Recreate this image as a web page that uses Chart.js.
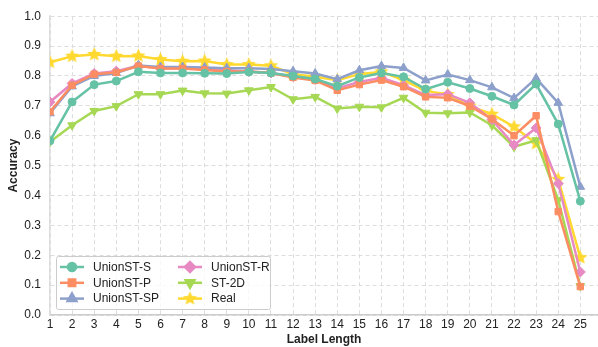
<!DOCTYPE html>
<html>
<head>
<meta charset="utf-8">
<script src="https://cdn.jsdelivr.net/npm/chart.js@4.4.1/dist/chart.umd.min.js"></script>
<style>
  html, body { margin: 0; padding: 0; background: #fff; }
  #wrap { width: 598px; height: 347px; position: relative; }
</style>
</head>
<body>
<div id="wrap"><canvas id="chart"></canvas></div>
<script>
const lengths = [1,2,3,4,5,6,7,8,9,10,11,12,13,14,15,16,17,18,19,20,21,22,23,24,25];
const yTicks = [0,0.1,0.2,0.3,0.4,0.5,0.6,0.7,0.8,0.9,1.0];

const unionS  = [0.583,0.713,0.771,0.783,0.814,0.810,0.810,0.809,0.808,0.813,0.810,0.800,0.790,0.766,0.795,0.810,0.797,0.756,0.779,0.758,0.732,0.703,0.773,0.639,0.381];
const unionP  = [0.680,0.769,0.806,0.812,0.833,0.825,0.825,0.820,0.815,0.815,0.810,0.795,0.785,0.752,0.771,0.786,0.764,0.730,0.727,0.699,0.656,0.600,0.667,0.346,0.095];
const unionSP = [0.675,0.765,0.800,0.810,0.835,0.830,0.830,0.828,0.826,0.826,0.823,0.816,0.808,0.789,0.819,0.833,0.827,0.785,0.805,0.786,0.762,0.726,0.792,0.710,0.429];
const unionR  = [0.713,0.775,0.808,0.816,0.834,0.826,0.825,0.823,0.819,0.815,0.810,0.798,0.788,0.759,0.780,0.794,0.769,0.736,0.739,0.710,0.654,0.569,0.626,0.440,0.144];
const st2d    = [0.580,0.635,0.683,0.699,0.739,0.739,0.751,0.742,0.741,0.752,0.763,0.722,0.730,0.691,0.697,0.695,0.727,0.677,0.675,0.678,0.635,0.563,0.585,0.385,0.097];
const real    = [0.846,0.866,0.872,0.866,0.867,0.855,0.849,0.850,0.838,0.838,0.834,0.806,0.797,0.786,0.806,0.814,0.786,0.750,0.738,0.699,0.672,0.630,0.574,0.454,0.192];

// filled five-point star marker
function makeStar(color, r) {
  const c = document.createElement('canvas');
  const s = Math.ceil(r * 2 + 2);
  c.width = s; c.height = s;
  const g = c.getContext('2d');
  g.fillStyle = color;
  g.beginPath();
  for (let i = 0; i < 10; i++) {
    const rad = i % 2 === 0 ? r : r * 0.45;
    const a = -Math.PI / 2 + i * Math.PI / 5;
    g.lineTo(s / 2 + rad * Math.cos(a), s / 2 + rad * Math.sin(a));
  }
  g.closePath();
  g.fill();
  return c;
}

const series = [
  { label: 'UnionST-S',  data: unionS,  color: '#66c2a5', style: 'circle',   rot: 0,   r: 4 },
  { label: 'UnionST-P',  data: unionP,  color: '#fc8d62', style: 'rect',     rot: 0,   r: 4.5 },
  { label: 'UnionST-SP', data: unionSP, color: '#8da0cb', style: 'triangle', rot: 0,   r: 5 },
  { label: 'UnionST-R',  data: unionR,  color: '#e78ac3', style: 'rectRot',  rot: 0,   r: 5 },
  { label: 'ST-2D',      data: st2d,    color: '#a6d854', style: 'triangle', rot: 180, r: 5 },
  { label: 'Real',       data: real,    color: '#ffd92f', style: makeStar('#ffd92f', 7.5), rot: 0, r: 7.5 }
];

const datasets = series.map(s => ({
  label: s.label,
  data: s.data.map((v, i) => ({ x: lengths[i], y: v })),
  borderColor: s.color,
  backgroundColor: s.color,
  borderWidth: 2.5,
  pointStyle: s.style,
  pointRotation: s.rot,
  pointRadius: s.r,
  pointBorderWidth: 1,
  pointBorderColor: s.color,
  tension: 0
}));

// legend inside the plot, bottom left, two columns
const insideLegend = {
  id: 'insideLegend',
  afterDraw(chart) {
    const ctx = chart.ctx;
    const bx = 56, by = 256, bw = 214, bh = 53;
    ctx.save();
    ctx.fillStyle = 'rgba(255,255,255,0.8)';
    ctx.strokeStyle = '#cccccc';
    ctx.lineWidth = 1;
    ctx.beginPath();
    ctx.roundRect(bx + 0.5, by + 0.5, bw, bh, 2);
    ctx.fill();
    ctx.stroke();
    ctx.font = '12px "Liberation Sans", Arial, sans-serif';
    ctx.textBaseline = 'middle';
    series.forEach((s, i) => {
      const col = Math.floor(i / 3), row = i % 3;
      const x0 = col === 0 ? 60 : 178;
      const y = 267 + row * 15.8;
      ctx.strokeStyle = s.color;
      ctx.lineWidth = 2.5;
      ctx.beginPath();
      ctx.moveTo(x0, y);
      ctx.lineTo(x0 + 24, y);
      ctx.stroke();
      ctx.fillStyle = s.color;
      Chart.helpers.drawPoint(ctx, { pointStyle: s.style, rotation: s.rot, radius: s.r, borderWidth: 1 }, x0 + 12, y);
      ctx.fillStyle = '#222';
      ctx.fillText(s.label, x0 + 33, y + 0.5);
    });
    ctx.restore();
  }
};

const fontFamily = '"Liberation Sans", Arial, sans-serif';

new Chart(document.getElementById('chart'), {
  type: 'line',
  data: { datasets },
  plugins: [insideLegend],
  options: {
    responsive: true,
    maintainAspectRatio: false,
    animation: false,
    layout: { autoPadding: false, padding: { top: 15, right: 0, left: 0, bottom: 0 } },
    plugins: { legend: { display: false }, tooltip: { enabled: false } },
    scales: {
      x: {
        type: 'linear',
        min: 1,
        max: 25.8,
        afterBuildTicks: sc => { sc.ticks = lengths.map(v => ({ value: v })); },
        afterFit: sc => { sc.height = 32; },
        ticks: { color: '#222', font: { family: fontFamily, size: 12 }, padding: 2, maxRotation: 0 },
        grid: { color: '#dddddd', drawTicks: false, tickLength: 0 },
        border: { color: '#cccccc', width: 1.5, dash: [4, 3] },
        title: { display: true, text: 'Label Length', color: '#222', font: { family: fontFamily, size: 12, weight: 'bold' }, padding: { top: 3, bottom: 0 } }
      },
      y: {
        min: 0,
        max: 1,
        afterBuildTicks: sc => { sc.ticks = yTicks.map(v => ({ value: v })); },
        afterFit: sc => { sc.width = 50; },
        ticks: { color: '#222', font: { family: fontFamily, size: 12 }, padding: 9, callback: v => v.toFixed(1) },
        grid: { color: '#dddddd', drawTicks: false, tickLength: 0 },
        border: { color: '#dddddd', width: 1.5, dash: [4, 3] },
        title: { display: true, text: 'Accuracy', color: '#222', font: { family: fontFamily, size: 12, weight: 'bold' }, padding: { top: 6, bottom: 0 } }
      }
    }
  }
});
</script>
</body>
</html>
